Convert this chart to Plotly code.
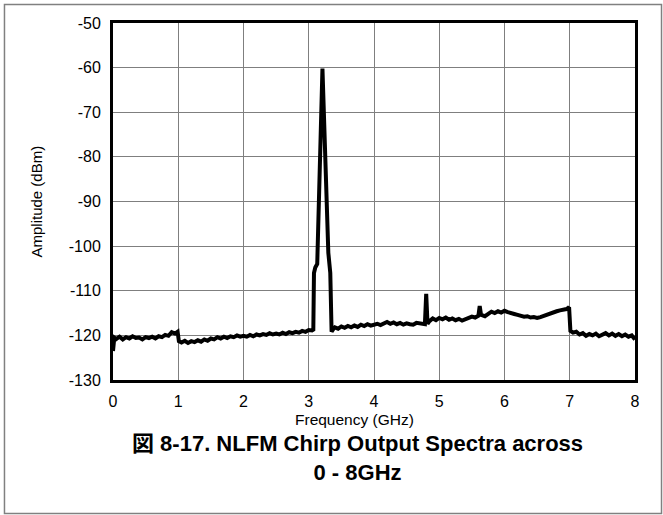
import plotly.graph_objects as go

freq_ghz = [0.00, 0.02, 0.05, 0.10, 0.15, 0.20, 0.25, 0.30, 0.35, 0.40, 0.45, 0.50, 0.55, 0.60, 0.65, 0.70,
            0.75, 0.80, 0.85, 0.90, 0.95, 0.99, 1.01, 1.05, 1.10, 1.15, 1.20, 1.25, 1.30, 1.35, 1.40, 1.45,
            1.50, 1.55, 1.60, 1.65, 1.70, 1.75, 1.80, 1.85, 1.90, 1.95, 2.00, 2.05, 2.10, 2.15, 2.20, 2.25,
            2.30, 2.35, 2.40, 2.45, 2.50, 2.55, 2.60, 2.65, 2.70, 2.75, 2.80, 2.85, 2.90, 2.95, 3.00, 3.05,
            3.07, 3.08, 3.10, 3.13, 3.21, 3.30, 3.33, 3.35, 3.38, 3.40, 3.45, 3.50, 3.55, 3.60, 3.65, 3.70,
            3.75, 3.80, 3.85, 3.90, 3.95, 4.00, 4.05, 4.10, 4.15, 4.20, 4.25, 4.30, 4.35, 4.40, 4.45, 4.50,
            4.55, 4.60, 4.65, 4.70, 4.78, 4.80, 4.82, 4.85, 4.90, 4.95, 5.00, 5.05, 5.10, 5.15, 5.20, 5.25,
            5.30, 5.35, 5.40, 5.45, 5.50, 5.55, 5.60, 5.62, 5.64, 5.70, 5.75, 5.80, 5.85, 5.90, 5.95, 6.00,
            6.05, 6.10, 6.15, 6.20, 6.25, 6.30, 6.35, 6.40, 6.45, 6.50, 6.55, 6.60, 6.65, 6.70, 6.75, 6.80,
            6.85, 6.90, 6.95, 6.99, 7.01, 7.05, 7.10, 7.15, 7.20, 7.25, 7.30, 7.35, 7.40, 7.45, 7.50, 7.55,
            7.60, 7.65, 7.70, 7.75, 7.80, 7.85, 7.90, 7.95, 8.00]

amplitude_dbm = [-123.5, -120.5, -120.8, -120.3, -120.9, -120.4, -120.7, -120.2, -120.6, -120.5, -120.9, -120.4, -120.6, -120.3, -120.7, -120.2,
                 -120.4, -119.9, -120.1, -119.3, -119.6, -119.2, -121.3, -121.6, -121.2, -121.7, -121.3, -121.5, -121.1, -121.4, -120.9, -121.2,
                 -120.7, -120.9, -120.4, -120.7, -120.3, -120.6, -120.2, -120.4, -120.0, -120.3, -120.1, -120.3, -119.9, -120.2, -119.8, -120.0,
                 -119.7, -119.9, -119.5, -119.8, -119.6, -119.8, -119.4, -119.7, -119.3, -119.5, -119.2, -119.4, -119.0, -119.2, -118.8, -118.9,
                 -118.7, -106.0, -104.8, -104.0, -60.2, -101.5, -106.0, -119.2, -118.5, -118.2, -118.5, -118.0, -118.3, -117.9, -118.2, -117.8,
                 -118.1, -117.6, -117.9, -117.5, -117.8, -117.6, -117.4, -117.7, -117.3, -117.0, -117.4, -117.1, -117.5, -117.2, -117.6, -117.3,
                 -117.5, -117.6, -117.2, -117.4, -117.5, -110.7, -117.4, -116.8, -116.2, -116.6, -116.1, -116.4, -116.0, -116.5, -116.2, -116.6,
                 -116.3, -116.7, -116.4, -116.1, -115.8, -116.0, -115.6, -113.4, -115.4, -115.7, -115.3, -114.7, -115.0, -114.6, -114.9, -114.5,
                 -114.8, -114.9, -115.2, -115.4, -115.6, -115.8, -115.7, -116.0, -115.9, -116.1, -115.9, -115.6, -115.4, -115.0, -114.8, -114.6,
                 -114.4, -114.3, -114.1, -113.7, -119.0, -119.4, -119.2, -119.8, -119.5, -120.1, -119.7, -120.0, -119.6, -120.2, -119.8, -119.5,
                 -120.0, -119.6, -120.1, -119.7, -120.2, -119.8, -120.3, -120.0, -120.9]

x_ticks = [0, 1, 2, 3, 4, 5, 6, 7, 8]
x_tick_labels = ["0", "1", "2", "3", "4", "5", "6", "7", "8"]
y_ticks = [-130, -120, -110, -100, -90, -80, -70, -60, -50]
y_tick_labels = ["-130", "-120", "-110", "-100", "-90", "-80", "-70", "-60", "-50"]

x_title = "Frequency (GHz)"
y_title = "Amplitude (dBm)"
caption = "<b>図 8-17. NLFM Chirp Output Spectra across<br>0 - 8GHz</b>"

FONT = "Liberation Sans, Arial, Noto Sans CJK JP, sans-serif"

fig = go.Figure()
fig.add_trace(go.Scatter(x=freq_ghz, y=amplitude_dbm, mode="lines",
                         line=dict(color="black", width=4), showlegend=False))

fig.update_layout(
    width=663, height=515,
    margin=dict(l=113, r=28, t=23, b=135),
    paper_bgcolor="white", plot_bgcolor="white",
    font=dict(family=FONT, color="black", size=16),
    xaxis=dict(range=[0, 8], tickvals=x_ticks, ticktext=x_tick_labels, showgrid=True,
               gridcolor="#7f7f7f", gridwidth=1, showline=True, linecolor="black", linewidth=3,
               mirror=True, ticks="", zeroline=False, tickfont=dict(size=16), ticklabelstandoff=5),
    yaxis=dict(range=[-130, -50], tickvals=y_ticks, ticktext=y_tick_labels, showgrid=True,
               gridcolor="#7f7f7f", gridwidth=1, showline=True, linecolor="black", linewidth=3,
               mirror=True, ticks="", zeroline=False, tickfont=dict(size=16), ticklabelstandoff=6),
    shapes=[dict(type="rect", xref="paper", yref="paper",
                 x0=-0.2079, x1=1.0508, y0=-0.3739, y1=1.0518,
                 line=dict(color="#808080", width=1.5), fillcolor="rgba(0,0,0,0)", layer="below")],
    annotations=[
        dict(text=caption, xref="paper", yref="paper", x=0.4693, y=-0.2185,
             xanchor="center", yanchor="middle", showarrow=False, align="center",
             font=dict(size=22, family=FONT, color="black")),
        dict(text=x_title, xref="paper", yref="paper", x=0.4617, y=-0.1120,
             xanchor="center", yanchor="middle", showarrow=False, font=dict(size=15.5)),
        dict(text=y_title, xref="paper", yref="paper", x=-0.1475, y=0.5, textangle=-90,
             xanchor="center", yanchor="middle", showarrow=False, font=dict(size=15)),
    ],
)

fig.write_html("out.html", config={"displayModeBar": False},
               post_script="document.body.style.margin='0';")
